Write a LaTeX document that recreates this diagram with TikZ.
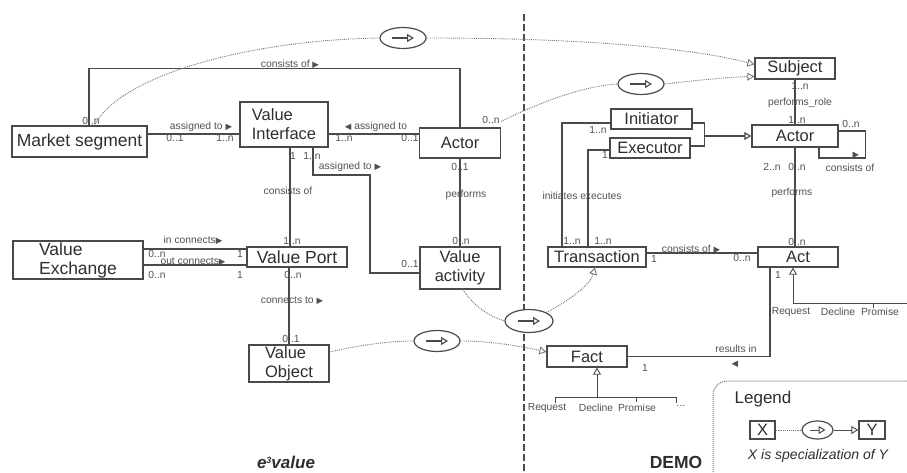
\documentclass[tikz,border=0pt]{standalone}
\usepackage{fontspec}
\setmainfont{Liberation Sans}
\newfontfamily\symfont{DejaVu Sans}
\usetikzlibrary{arrows.meta,shapes.geometric,calc}
\definecolor{ln}{HTML}{4A4A4A}
\definecolor{tx}{HTML}{2E2E2E}
\definecolor{sx}{HTML}{505050}
\newcommand\rtri{{\symfont\fontsize{8.5}{8.5}\selectfont ▶}}
\newcommand\ltri{{\symfont\fontsize{8.5}{8.5}\selectfont ◀}}
\begin{document}
\begin{tikzpicture}[x=1pt,y=-1pt,
  box/.style={draw=ln,line width=1.3pt,rectangle,inner sep=0pt,text=tx,font=\fontsize{16.5}{19}\selectfont},
  bigbox/.style={box,font=\fontsize{17.5}{19}\selectfont},
  sm/.style={inner sep=0pt,text=sx,font=\fontsize{10.3}{11}\selectfont},
  conn/.style={draw=ln,line width=1.2pt},
  thinconn/.style={draw=ln,line width=0.9pt},
  spec/.style={draw=ln!75,line width=0.9pt,densely dotted},
  oval/.style={ellipse,draw=ln,fill=white,line width=1.2pt,minimum width=46pt,minimum height=21pt,inner sep=0pt},
  opentip/.style={-{Triangle[open,length=7pt,width=8pt]}},
]
\useasboundingbox (0,0) rectangle (907,473);
\clip (0,0) rectangle (907,473);

% ---------------- divider ----------------
\coordinate (divtop) at (524,14);
\coordinate (divbot) at (524,473);
\draw[draw=ln,line width=1.6pt,dash pattern=on 7pt off 3pt] (divtop) -- (divbot);

% ---------------- e3value boxes ----------------
\node[bigbox,minimum width=135pt,minimum height=31pt] (ms) at (79.5,141.5) {Market segment};
\node[box,minimum width=88pt,minimum height=45pt,align=left] (vi) at (284,124.5) {Value\\Interface};
\node[box,minimum width=81pt,minimum height=30pt] (a1) at (460,143) {Actor};
\node[bigbox,minimum width=100pt,minimum height=20pt] (vp) at (297,257) {Value Port};
\node[bigbox,minimum width=130pt,minimum height=38pt,align=left] (vx) at (78,260) {Value\\Exchange};
\node[box,minimum width=80pt,minimum height=42pt,align=center] (va) at (460,268) {Value\\activity};
\node[box,minimum width=80pt,minimum height=37pt,align=left] (vo) at (289,363.5) {Value\\Object};

% ---------------- DEMO boxes ----------------
\node[box,minimum width=80pt,minimum height=21pt] (sj) at (795,68.5) {Subject};
\node[box,minimum width=81pt,minimum height=20pt] (ini) at (651.5,119) {Initiator};
\node[box,minimum width=80pt,minimum height=20pt] (exe) at (650,148) {Executor};
\node[box,minimum width=86pt,minimum height=22pt] (a2) at (795,136) {Actor};
\node[box,minimum width=98pt,minimum height=20pt] (tr) at (597,257) {Transaction};
\node[box,minimum width=80pt,minimum height=20pt] (act) at (798,257) {Act};
\node[box,minimum width=80pt,minimum height=21pt] (fact) at (587,356.5) {Fact};

% ---------------- e3value connectors ----------------
\draw[conn] ([xshift=9.5pt]ms.north) -- ++(0,-57) -| (a1.north);
\draw[conn] ([yshift=7.5pt]ms.east) -- ([yshift=-9.5pt]vi.west);
\draw[conn] ([yshift=-9.5pt]vi.east) -- ([yshift=9pt]a1.west);
\draw[conn] ([xshift=6pt]vi.south) -- ([xshift=-7pt]vp.north);
\coordinate (vibend) at (370,175);
\draw[conn] ([xshift=29pt]vi.south) |- (vibend) |- ([yshift=-5pt]va.west);
\draw[conn] (a1.south) -- (va.north);
\draw[conn] ([yshift=11pt]vx.east) -- ([yshift=8pt]vp.west);
\draw[conn] ([yshift=-5pt]vx.east) -- ([yshift=-8pt]vp.west);
\draw[conn] ([xshift=-8pt]vp.south) -- (vo.north);

% labels e3value
\node[sm] (l1) at (290,64) {consists of \rtri};
\node[sm] (l2) at (91,121) {0..n};
\node[sm] (l3) at (201,127) {assigned to \rtri};
\node[sm] (l4) at (175,138) {0..1};
\node[sm] (l5) at (225,138) {1..n};
\node[sm] (l6) at (376,127) {\ltri\ assigned to};
\node[sm] (l7) at (344,138) {1..n};
\node[sm] (l8) at (410,138) {0..1};
\node[sm] (l9) at (293,156) {1};
\node[sm] (l10) at (312,156) {1..n};
\node[sm] (l11) at (350,167) {assigned to \rtri};
\node[sm] (l12) at (288,191) {consists of};
\node[sm] (l13) at (292,241) {1..n};
\node[sm] (l14) at (410,264) {0..1};
\node[sm] (l15) at (460,167) {0..1};
\node[sm] (l16) at (466,195) {performs};
\node[sm] (l17) at (461,241) {0..n};
\node[sm] (l18) at (193,240) {in connects\rtri};
\node[sm] (l19) at (193,262) {out connects\rtri};
\node[sm] (l20) at (157,254) {0..n};
\node[sm] (l21) at (240,254) {1};
\node[sm] (l22) at (157,275) {0..n};
\node[sm] (l23) at (240,275) {1};
\node[sm] (l24) at (293,275) {0..n};
\node[sm] (l25) at (292,301) {connects to \rtri};
\node[sm] (l26) at (291,339) {0..1};
\node[sm] (l27) at (491,120) {0..n};

% ---------------- DEMO connectors ----------------
\draw[conn] (sj.south) -- (a2.north);
\draw[conn] ([yshift=-4pt]ini.east) -- ++(12,0) |- ([yshift=2pt]exe.east);
\coordinate (iejoin) at (704,136);
\draw[conn,opentip] (iejoin) -- (a2.west);
\draw[conn] ([yshift=-4pt]ini.west) -| ([xshift=-35pt]tr.north);
\draw[conn] ([yshift=-2pt]exe.west) -| ([xshift=-9pt]tr.north);
\draw[conn] ([yshift=4pt]tr.east) -- ([yshift=4pt]act.west);
\draw[conn] ([yshift=5pt]a2.east) -- ++(27,0) -- ++(0,27) -| ([xshift=24pt]a2.south);
\draw[conn] (a2.south) -- (a2.south |- act.north);
\draw[conn] ([xshift=-28pt]act.south) |- (fact.east);
% Act specialisation
\coordinate (asp) at (793,303);
\coordinate (aspend) at (912,303);
\coordinate (atick1) at (873,303);
\coordinate (atick1b) at (873,308);
\draw[thinconn,opentip] (asp) -- ([xshift=-5pt]act.south);
\draw[thinconn] (asp) -- (aspend);
\draw[thinconn] (atick1) -- (atick1b);
% Fact specialisation
\coordinate (fsp) at (597,397);
\draw[thinconn,opentip] (fsp) -- ([xshift=10pt]fact.south);
\coordinate (fa) at (555,403);
\coordinate (fb) at (555,397);
\coordinate (fc) at (676,397);
\coordinate (fd) at (676,403);
\coordinate (fe) at (636,397);
\coordinate (ff) at (636,402);
\draw[thinconn] (fa) -- (fb) -- (fc) -- (fd);
\draw[thinconn] (fe) -- (ff);

% labels DEMO
\node[sm] (r1) at (800,86) {1..n};
\node[sm] (r2) at (800,103) {performs\_role};
\node[sm] (r3) at (797,120) {1..n};
\node[sm] (r4) at (851,124) {0..n};
\node[sm] (r5) at (850,168) {consists of};
\node[sm] (r5b) at (856,155) {\rtri};
\node[sm] (r6) at (772,167) {2..n};
\node[sm] (r7) at (797,167) {0..n};
\node[sm] (r8) at (792,193) {performs};
\node[sm] (r9) at (797,242) {0..n};
\node[sm] (r10) at (778,275) {1};
\node[sm] (r11) at (742,258) {0..n};
\node[sm] (r12) at (654,259) {1};
\node[sm] (r13) at (691,249) {consists of \rtri};
\node[sm] (r14) at (598,130) {1..n};
\node[sm] (r15) at (605,155) {1};
\node[sm] (r16) at (582,196) {initiates executes};
\node[sm] (r17) at (572,241) {1..n};
\node[sm] (r18) at (603,241) {1..n};
\node[sm] (r19) at (736,349) {results in};
\node[sm] (r20) at (735,364) {\ltri};
\node[sm] (r21) at (645,368) {1};
\node[sm] (r22) at (791,312) {Request};
\node[sm] (r23) at (838,312) {Decline};
\node[sm] (r24) at (880,312) {Promise};
\node[sm] (r25) at (547,408) {Request};
\node[sm] (r26) at (596,408) {Decline};
\node[sm] (r27) at (637,408) {Promise};
\node[sm] (r28) at (681,406) {...};

% ---------------- specialisation mappings ----------------
\node[oval] (e1) at (403,38) {};
\node[oval] (e2) at (641,84) {};
\node[oval,minimum height=23pt,minimum width=48pt] (e3) at (529,321) {};
\node[oval] (e4) at (437,341) {};
\foreach \e in {e1,e2,e3,e4}{
  \draw[draw=ln,line width=1.1pt,opentip] ([xshift=-11pt]\e.center) -- ([xshift=11pt]\e.center);
}
\draw[spec] ([xshift=15pt]ms.north) .. controls (120,75) and (250,40) .. (e1.west);
\draw[spec,opentip] (e1.east) .. controls (600,38) and (700,50) .. ([yshift=4pt]sj.west);
\draw[spec] ([yshift=6pt]a1.north east) .. controls (545,100) and (585,86) .. (e2.west);
\draw[spec,opentip] (e2.east) .. controls (700,80) and (730,77) .. ([yshift=-8pt]sj.west);
\draw[spec] ([xshift=3pt]va.south) .. controls (475,308) and (490,316) .. (e3.west);
\draw[spec,opentip] (e3.north east) .. controls (570,300) and (590,285) .. ([xshift=-2pt]tr.south);
\draw[spec] ([yshift=11.5pt]vo.east) .. controls (360,345) and (390,341) .. (e4.west);
\draw[spec,opentip] (e4.east) .. controls (490,341) and (520,346) .. ([yshift=4.5pt]fact.west);

% ---------------- titles ----------------
\node[inner sep=0pt,text=tx,font=\fontsize{17}{18}\selectfont\bfseries\itshape] (t1) at (286,462) {e{\fontsize{9}{9}\selectfont\raisebox{5pt}{3}}value};
\node[inner sep=0pt,text=tx,font=\fontsize{17.5}{18}\selectfont\bfseries] (t2) at (676,462) {DEMO};

% ---------------- legend ----------------
\coordinate (lg1) at (713,381);
\coordinate (lg2) at (935,495);
\draw[draw=ln!80,line width=1pt,densely dotted,rounded corners=14pt] (lg1) rectangle (lg2);
\node[inner sep=0pt,text=tx,font=\fontsize{17}{18}\selectfont] (lgt) at (763,399) {Legend};
\node[box,minimum width=25pt,minimum height=18pt] (lx) at (762.5,430) {X};
\node[oval,minimum width=31pt,minimum height=18pt] (e5) at (817.5,430) {};
\node[box,minimum width=26pt,minimum height=18pt] (ly) at (872,430) {Y};
\draw[draw=ln,line width=1pt,opentip] ([xshift=-8pt]e5.center) -- ([xshift=8pt]e5.center);
\draw[spec] (lx) -- (e5);
\draw[thinconn,opentip] (e5) -- (ly);
\node[inner sep=0pt,text=tx,font=\fontsize{14}{15}\selectfont\itshape] (lgc) at (818,456) {X is specialization of Y};
\end{tikzpicture}
\end{document}
